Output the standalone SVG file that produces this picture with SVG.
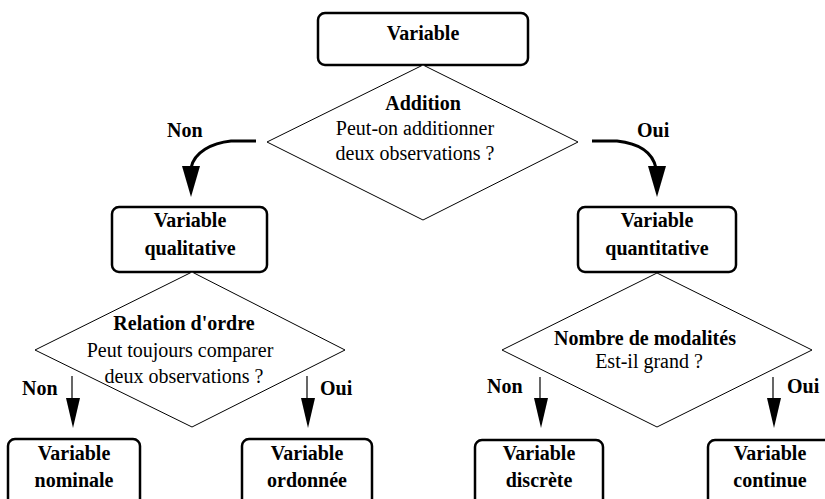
<svg xmlns="http://www.w3.org/2000/svg" width="825" height="499" viewBox="0 0 825 499" font-family="Liberation Serif, Times New Roman, Tinos, Noto Serif, DejaVu Serif, serif">
<style>
.box{fill:#fff;stroke:#000;stroke-width:2.5}
.dia{fill:#fff;stroke:#000;stroke-width:1}
.b{font-size:20px;font-weight:bold;text-anchor:middle;fill:#000}
.r{font-size:20px;text-anchor:middle;fill:#000}
.lbl{font-size:20px;font-weight:bold;fill:#000}
.ln{fill:none;stroke:#000;stroke-width:1.2}
.thick{fill:none;stroke:#000;stroke-width:3}
.ah{fill:#000;stroke:none}
</style>
<rect width="825" height="499" fill="#fff"/>
<g id="connectors">
<path class="thick" d="M256,141 L231,141 C212,143 194,152 191,168"/>
<polygon class="ah" points="182,166 200,166 191,197"/>
<path class="thick" d="M592,141 L617,141 C636,143 652,150 656,168"/>
<polygon class="ah" points="648,166 666,166 657,197"/>
<line class="ln" x1="72" y1="376" x2="72" y2="400"/>
<polygon class="ah" points="66,398 80,398 73,428"/>
<line class="ln" x1="307" y1="376" x2="307" y2="400"/>
<polygon class="ah" points="301,398 315,398 308,428"/>
<line class="ln" x1="540" y1="377" x2="540" y2="400"/>
<polygon class="ah" points="534,398 548,398 541,428"/>
<line class="ln" x1="773" y1="377" x2="773" y2="400"/>
<polygon class="ah" points="767,398 781,398 774,428"/>
<text class="lbl" x="167" y="137" font-family="Liberation Serif">Non</text>
<text class="lbl" x="637" y="137" font-family="Liberation Serif">Oui</text>
<text class="lbl" x="22" y="395" font-family="Liberation Serif">Non</text>
<text class="lbl" x="320" y="395" font-family="Liberation Serif">Oui</text>
<text class="lbl" x="487" y="393" font-family="Liberation Serif">Non</text>
<text class="lbl" x="787" y="393" font-family="Liberation Serif">Oui</text>
</g>
<g id="n-variable">
<rect class="box" x="318" y="13" width="210" height="52" rx="7"/>
<text class="b" x="423" y="40">Variable</text>
</g>
<g id="d-addition">
<polygon class="dia" points="423,65 578,142 423,220 267,142"/>
<text class="b" x="423" y="110">Addition</text>
<text class="r" x="415" y="135">Peut-on additionner</text>
<text class="r" x="415" y="160">deux observations ?</text>
</g>
<g id="n-qualitative">
<rect class="box" x="112" y="207" width="155" height="65" rx="7"/>
<text class="b" x="190" y="227">Variable</text>
<text class="b" x="190" y="255">qualitative</text>
</g>
<g id="n-quantitative">
<rect class="box" x="578" y="207" width="158" height="65" rx="7"/>
<text class="b" x="657" y="227">Variable</text>
<text class="b" x="657" y="255">quantitative</text>
</g>
<g id="d-ordre">
<polygon class="dia" points="192,272 345,350 192,427 35,350"/>
<text class="b" x="184" y="330">Relation d'ordre</text>
<text class="r" x="180" y="357">Peut toujours comparer</text>
<text class="r" x="184" y="383">deux observations ?</text>
</g>
<g id="d-modalites">
<polygon class="dia" points="657,273 812,350 657,427 502,350"/>
<text class="b" x="645" y="345">Nombre de modalités</text>
<text class="r" x="649" y="368">Est-il grand ?</text>
</g>
<g id="n-nominale">
<rect class="box" x="8" y="439" width="132" height="80" rx="7"/>
<text class="b" x="74" y="460">Variable</text>
<text class="b" x="74" y="487">nominale</text>
</g>
<g id="n-ordonnee">
<rect class="box" x="242" y="439" width="130" height="80" rx="7"/>
<text class="b" x="307" y="460">Variable</text>
<text class="b" x="307" y="487">ordonnée</text>
</g>
<g id="n-discrete">
<rect class="box" x="475" y="440" width="128" height="80" rx="7"/>
<text class="b" x="539" y="460">Variable</text>
<text class="b" x="539" y="487">discrète</text>
</g>
<g id="n-continue">
<rect class="box" x="708" y="440" width="130" height="80" rx="7"/>
<text class="b" x="770" y="460">Variable</text>
<text class="b" x="770" y="487">continue</text>
</g>
</svg>
